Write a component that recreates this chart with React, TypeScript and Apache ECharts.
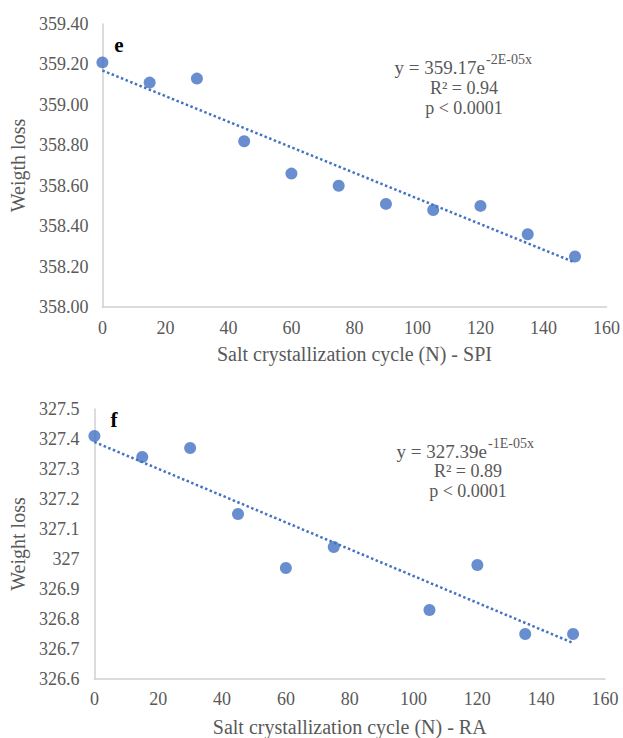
import React, { useEffect, useRef } from "react";
import * as echarts from "echarts";

const xTicks = [0, 20, 40, 60, 80, 100, 120, 140, 160];

const spiCycles = [0, 15, 30, 45, 60, 75, 90, 105, 120, 135, 150];
const spiWeight = [359.21, 359.11, 359.13, 358.82, 358.66, 358.6, 358.51, 358.48, 358.5, 358.36, 358.25];
const spiTrendX = [0, 150];
const spiTrendY = [359.17, 358.22];

const raCycles = [0, 15, 30, 45, 60, 75, 105, 120, 135, 150];
const raWeight = [327.41, 327.34, 327.37, 327.15, 326.97, 327.04, 326.83, 326.98, 326.75, 326.75];
const raTrendX = [0, 150];
const raTrendY = [327.39, 326.72];

const FONT = "'Liberation Serif', 'Times New Roman', serif";
const LABEL = "#595959";
const AXIS = "#d0d0d0";
const BLUE = "#4472C4";

export default function App() {
  const ref = useRef<HTMLDivElement>(null);
  useEffect(() => {
    if (!ref.current) return;
    const chart = echarts.init(ref.current, undefined, { renderer: "svg" });
    const pair = (xs: number[], ys: number[]) => xs.map((x, i) => [x, ys[i]]);
    const xAxisBase = (gridIndex: number, name: string, gap: number, margin: number) => ({
      type: "value",
      gridIndex,
      min: xTicks[0],
      max: xTicks[xTicks.length - 1],
      interval: xTicks[1] - xTicks[0],
      name,
      nameLocation: "middle",
      nameGap: gap,
      nameTextStyle: { fontFamily: FONT, fontSize: 20, color: LABEL },
      axisLine: { show: true, lineStyle: { color: AXIS, width: 1.5 } },
      axisTick: { show: false },
      splitLine: { show: false },
      axisLabel: { fontFamily: FONT, fontSize: 18, color: LABEL, margin },
    });
    const yAxisBase = (gridIndex: number, name: string, min: number, max: number, interval: number, gap: number, margin: number, fmt?: (v: number) => string) => ({
      type: "value",
      gridIndex,
      min,
      max,
      interval,
      name,
      nameLocation: "middle",
      nameGap: gap,
      nameTextStyle: { fontFamily: FONT, fontSize: 20, color: LABEL },
      axisLine: { show: true, lineStyle: { color: AXIS, width: 1.5 } },
      axisTick: { show: false },
      splitLine: { show: false },
      axisLabel: { fontFamily: FONT, fontSize: 18, color: LABEL, margin, formatter: fmt },
    });
    const txt = (x: number, y: number, text: string, align: string, size: number) => ({
      type: "text",
      x,
      y,
      style: { text, align, verticalAlign: "middle", fontFamily: FONT, fontSize: size, lineHeight: size, fill: LABEL },
    });
    chart.setOption({
      animation: false,
      backgroundColor: "#ffffff",
      grid: [
        { left: 101, right: 15, top: 24, height: 283, containLabel: false },
        { left: 90, right: 18, top: 409, height: 272, containLabel: false },
      ],
      xAxis: [
        xAxisBase(0, "Salt crystallization cycle (N) - SPI", 37, 12),
        xAxisBase(1, "Salt crystallization cycle (N) - RA", 38, 11),
      ],
      yAxis: [
        yAxisBase(0, "Weigth loss", 358, 359.4, 0.2, 67, 14, (v: number) => v.toFixed(2)),
        yAxisBase(1, "Weight loss", 326.6, 327.5, 0.1, 58, 15, (v: number) => String(Math.round(v * 10) / 10)),
      ],
      series: [
        {
          type: "scatter",
          xAxisIndex: 0,
          yAxisIndex: 0,
          data: pair(spiCycles, spiWeight),
          symbolSize: 12,
          itemStyle: { color: BLUE },
        },
        {
          type: "line",
          xAxisIndex: 0,
          yAxisIndex: 0,
          data: pair(spiTrendX, spiTrendY),
          symbol: "none",
          lineStyle: { type: "dotted", width: 2.5, color: BLUE },
          z: 3,
        },
        {
          type: "scatter",
          xAxisIndex: 1,
          yAxisIndex: 1,
          data: pair(raCycles, raWeight),
          symbolSize: 12,
          itemStyle: { color: BLUE },
        },
        {
          type: "line",
          xAxisIndex: 1,
          yAxisIndex: 1,
          data: pair(raTrendX, raTrendY),
          symbol: "none",
          lineStyle: { type: "dotted", width: 2.5, color: BLUE },
          z: 3,
        },
      ],
      graphic: [
        { type: "text", x: 119, y: 45, style: { text: "e", align: "center", verticalAlign: "middle", fontFamily: FONT, fontSize: 21, fontWeight: "bold", fill: "#000" } },
        { type: "text", x: 114, y: 420, style: { text: "f", align: "center", verticalAlign: "middle", fontFamily: FONT, fontSize: 21, fontWeight: "bold", fill: "#000" } },
        txt(485, 67, "y = 359.17e", "right", 19),
        txt(486, 59, "-2E-05x", "left", 14),
        txt(464, 88, "R² = 0.94", "center", 18),
        txt(464, 108, "p < 0.0001", "center", 18),
        txt(487, 451, "y = 327.39e", "right", 19),
        txt(488, 443, "-1E-05x", "left", 14),
        txt(468, 471, "R² = 0.89", "center", 18),
        txt(468, 491, "p < 0.0001", "center", 18),
      ],
    });
    return () => chart.dispose();
  }, []);
  return <div ref={ref} style={{ position: "absolute", left: 0, top: 0, width: 623, height: 738 }} />;
}
